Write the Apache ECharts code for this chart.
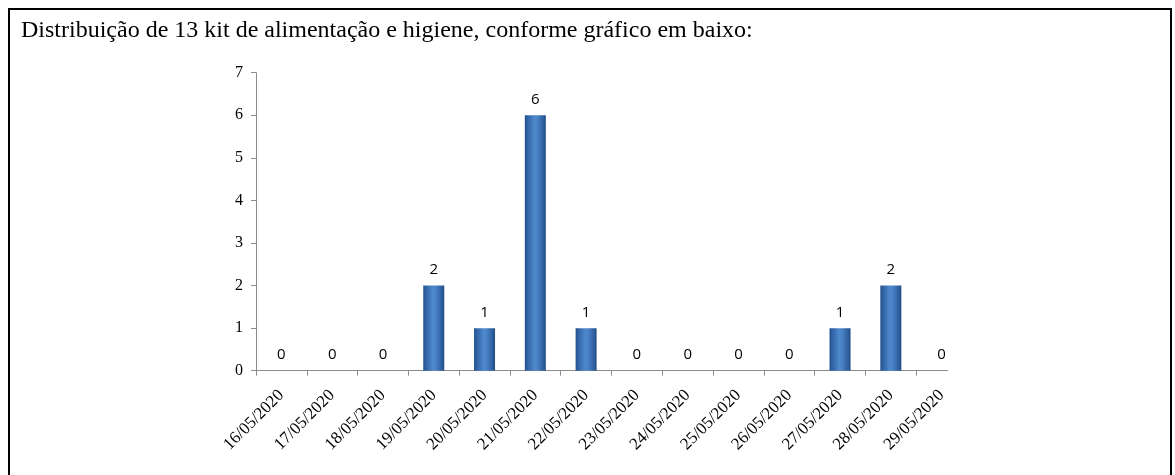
<!DOCTYPE html>
<html>
<head>
<meta charset="utf-8">
<script src="https://cdn.jsdelivr.net/npm/echarts@6/dist/echarts.min.js"></script>
<style>
	html, body { margin: 0; padding: 0; background: #fff; }
	#frame {
		position: absolute; left: 8px; top: 8px;
		width: 1160px; height: 480px;
		border: 2px solid #000;
	}
	/* a imagem do grafico original esta cortada a direita (~948px) */
	#chart {
		position: absolute; left: 0; top: 0; width: 967px; height: 475px;
		clip-path: inset(0 19px 0 0);
	}
</style>
</head>
<body>
<div id="frame"></div>
<div id="chart"></div>
<script>
var titleText = 'Distribuição de 13 kit de alimentação e higiene, conforme gráfico em baixo:';
var dates = ['16/05/2020', '17/05/2020', '18/05/2020', '19/05/2020', '20/05/2020', '21/05/2020', '22/05/2020',
	'23/05/2020', '24/05/2020', '25/05/2020', '26/05/2020', '27/05/2020', '28/05/2020', '29/05/2020'];
var kits = [0, 0, 0, 2, 1, 6, 1, 0, 0, 0, 0, 1, 2, 0];

var chart = echarts.init(document.getElementById('chart'));

// gradiente das barras (bordas escuras, meio claro)
var barColor = new echarts.graphic.LinearGradient(0, 0, 1, 0, [
	{ offset: 0, color: '#23508a' },
	{ offset: 0.12, color: '#2f62a3' },
	{ offset: 0.45, color: '#4f88cc' },
	{ offset: 0.6, color: '#4a82c6' },
	{ offset: 0.88, color: '#2e5f9e' },
	{ offset: 1, color: '#214b83' }
]);

var options = {
	backgroundColor: 'transparent',
	animation: false,
	title: {
		text: titleText,
		left: 21, top: 19, padding: 0,
		textStyle: { fontFamily: 'Liberation Serif', fontSize: 24, fontWeight: 'normal', color: '#000' }
	},
	grid: { left: 256, top: 72.7, right: 0, bottom: 104.3 },
	xAxis: {
		type: 'category',
		data: dates,
		axisLine: { lineStyle: { color: '#8c8c8c' } },
		axisTick: { show: true, length: 5, lineStyle: { color: '#8c8c8c' } },
		axisLabel: {
			rotate: 45, interval: 0, margin: 22,
			fontFamily: 'Liberation Serif', fontSize: 17, color: '#000'
		}
	},
	yAxis: {
		type: 'value',
		min: 0, max: 7, interval: 1,
		axisLine: { show: true, lineStyle: { color: '#8c8c8c' } },
		axisTick: { show: true, length: 5, lineStyle: { color: '#8c8c8c' } },
		splitLine: { show: false },
		axisLabel: { fontFamily: 'Liberation Serif', fontSize: 16, color: '#000', margin: 13 }
	},
	series: [{
		type: 'bar',
		data: kits,
		barWidth: 21,
		itemStyle: { color: barColor, borderWidth: 0 },
		label: {
			show: true, position: 'top', distance: 8,
			fontFamily: 'Open Sans', fontSize: 15, color: '#000'
		}
	}]
};

chart.setOption(options);
</script>
</body>
</html>
